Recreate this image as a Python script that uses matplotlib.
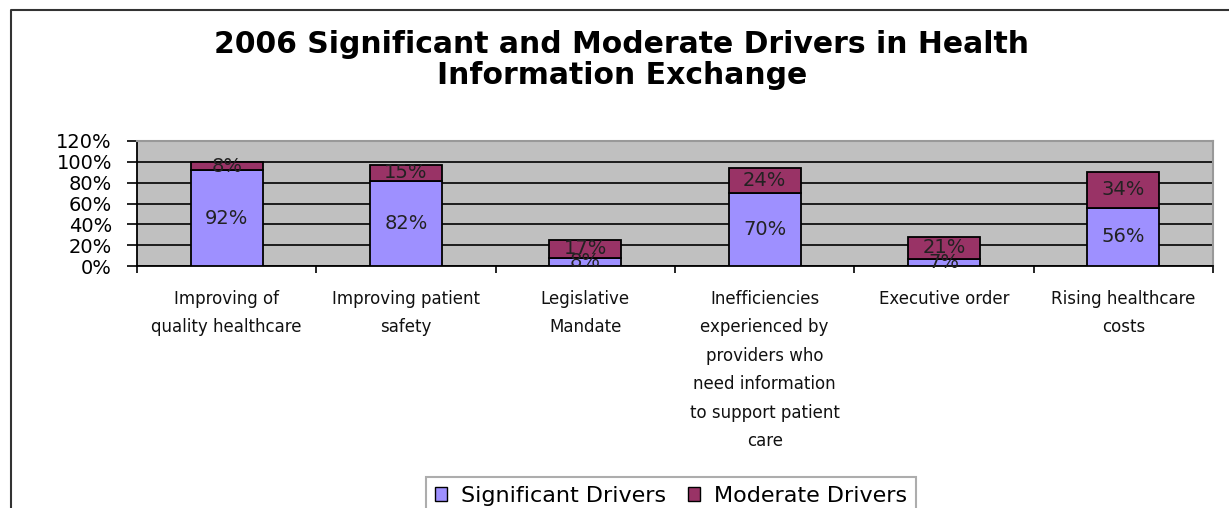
import numpy as np
import matplotlib.pyplot as plt
from matplotlib.lines import Line2D
from matplotlib.patches import Patch

plt.rcParams['font.family'] = ['DejaVu Sans']

categories = ["Improving of\nquality healthcare",
              "Improving patient\nsafety",
              "Legislative\nMandate",
              "Inefficiencies\nexperienced by\nproviders who\nneed information\nto support patient\ncare",
              "Executive order",
              "Rising healthcare\ncosts"]
significant = [92, 82, 8, 70, 7, 56]
moderate = [8, 15, 17, 24, 21, 34]
yticks = [0, 20, 40, 60, 80, 100, 120]

sig_color = '#9E90FF'
mod_color = '#993366'


def main():
    fig = plt.figure(figsize=(12.29, 5.08), dpi=100)
    ax = fig.add_axes([137 / 1229, 1 - 266 / 508, (1213 - 137) / 1229, (266 - 141) / 508])
    ax.set_facecolor('#C0C0C0')

    x = np.arange(len(categories))
    width = 0.4
    ax.bar(x, significant, width, color=sig_color, edgecolor='black', linewidth=1.3, zorder=3)
    ax.bar(x, moderate, width, bottom=significant, color=mod_color, edgecolor='black',
           linewidth=1.3, zorder=3)

    # data labels centred in each segment (small ones overlap, as in the original)
    for i in range(len(categories)):
        ax.text(x[i], significant[i] / 2, f"{significant[i]}%", ha='center', va='center',
                fontsize=14, color='#222222', zorder=4)
        ax.text(x[i], significant[i] + moderate[i] / 2, f"{moderate[i]}%", ha='center',
                va='center', fontsize=14, color='#222222', zorder=4)

    ax.set_xlim(-0.5, len(categories) - 0.5)
    ax.set_ylim(0, 120)
    ax.set_yticks(yticks)
    ax.set_yticklabels([f"{v}%" for v in yticks], fontsize=14)
    ax.yaxis.grid(True, color='black', linewidth=1.2, zorder=1)
    ax.set_axisbelow(True)

    ax.set_xticks(x)
    ax.set_xticklabels(categories, fontsize=12, linespacing=1.75, va='top', color='#111111')
    ax.set_xticks(np.arange(len(categories) + 1) - 0.5, minor=True)
    ax.tick_params(axis='x', which='major', length=0, pad=17)
    ax.tick_params(axis='x', which='minor', length=5, width=1.2, direction='out')
    ax.tick_params(axis='y', length=7, width=1.2, direction='out', pad=11)

    for side in ['top', 'right']:
        ax.spines[side].set_color('#999999')
        ax.spines[side].set_linewidth(1.5)
    for side in ['left', 'bottom']:
        ax.spines[side].set_color('black')
        ax.spines[side].set_linewidth(1.3)

    fig.text(622 / 1229, 1 - 60 / 508,
             "2006 Significant and Moderate Drivers in Health\nInformation Exchange",
             ha='center', va='center', fontsize=21.5, fontweight='bold', linespacing=1.12)

    handles = [Patch(facecolor=sig_color, edgecolor='black', label='Significant Drivers'),
               Patch(facecolor=mod_color, edgecolor='black', label='Moderate Drivers')]
    leg = fig.legend(handles=handles, loc='upper center', ncol=2,
                     bbox_to_anchor=(671 / 1229, 1 - 477 / 508), fontsize=16,
                     frameon=True, fancybox=False, handlelength=0.55, handleheight=0.55,
                     handletextpad=0.6, columnspacing=1.0, borderpad=0.4, borderaxespad=0)
    leg.get_frame().set_edgecolor('#999999')
    leg.get_frame().set_linewidth(1.5)

    # outer chart frame
    fig.add_artist(Line2D([11 / 1229, 11 / 1229, 1.0], [0.0, 1 - 10 / 508, 1 - 10 / 508],
                          transform=fig.transFigure, color='#333333', linewidth=1.5))

    fig.savefig("out.png", dpi=100)


if __name__ == "__main__":
    main()
